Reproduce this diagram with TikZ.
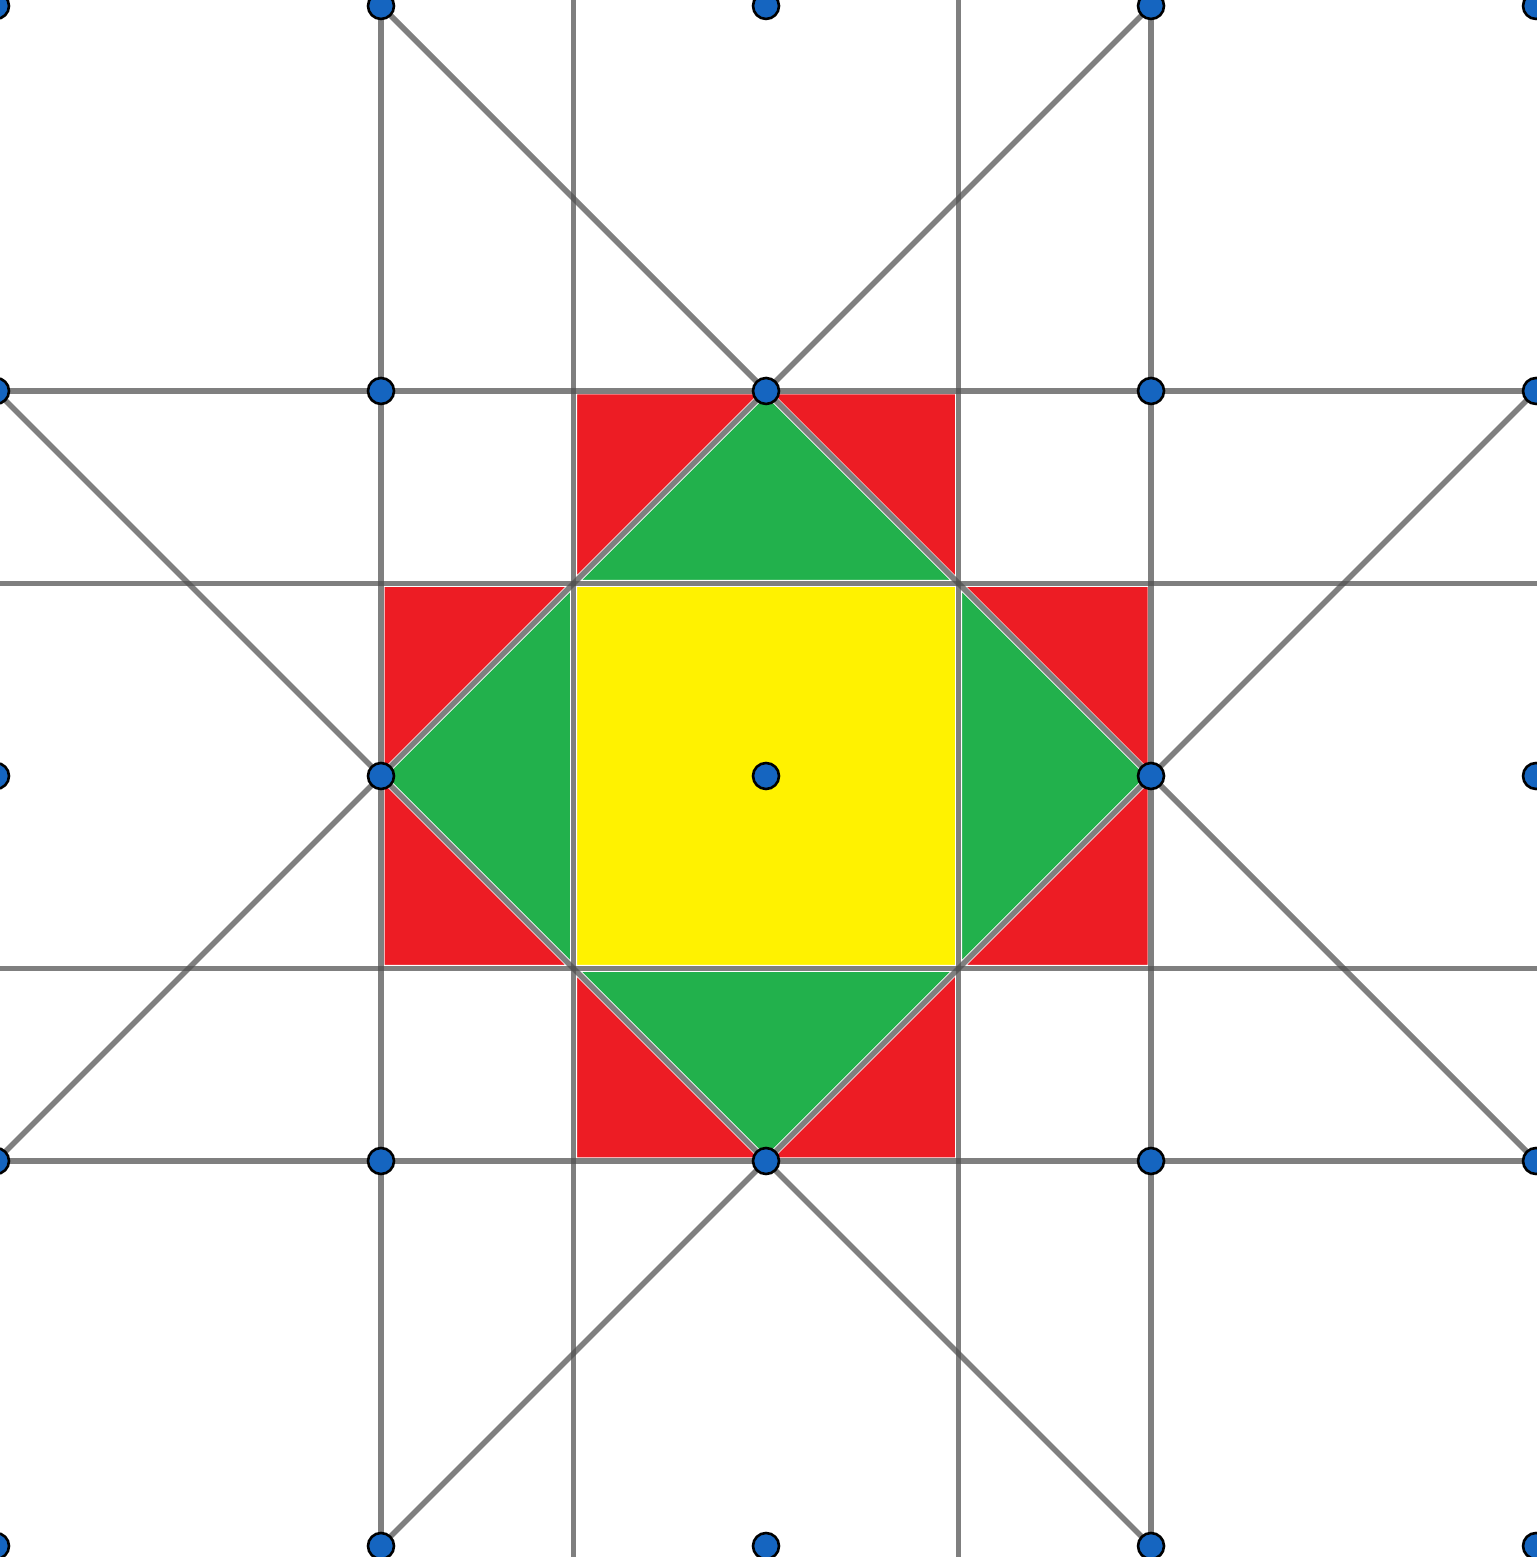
\documentclass[tikz,border=0pt]{standalone}
\definecolor{myred}{RGB}{237,28,36}
\definecolor{mygreen}{RGB}{34,177,76}
\definecolor{myyellow}{RGB}{255,242,0}
\definecolor{myblue}{RGB}{21,101,192}
\definecolor{lineink}{RGB}{80,80,80}
\tikzset{
  tile/.style={draw=white, line width=0.07cm, line join=miter},
  gridline/.style={draw=lineink, opacity=0.73, line width=0.056cm},
  dot/.style={circle, draw=black, fill=myblue, line width=0.026cm, minimum size=0.26cm, inner sep=0pt}
}
\begin{document}
\begin{tikzpicture}
\useasboundingbox (0,0) rectangle (15.37,15.57);
\begin{scope}[shift={(-0.04,15.51)}, x=3.85cm, y=-3.85cm]
  % fills
  \fill[myyellow, tile] (1.5,1.5) rectangle (2.5,2.5);
  \fill[mygreen, tile] (1.5,1.5) -- (2,1) -- (2.5,1.5) -- cycle;
  \fill[mygreen, tile] (1.5,1.5) -- (1,2) -- (1.5,2.5) -- cycle;
  \fill[mygreen, tile] (2.5,1.5) -- (3,2) -- (2.5,2.5) -- cycle;
  \fill[mygreen, tile] (1.5,2.5) -- (2,3) -- (2.5,2.5) -- cycle;
  \fill[myred, tile] (1.5,1) -- (2,1) -- (1.5,1.5) -- cycle;
  \fill[myred, tile] (2,1) -- (2.5,1) -- (2.5,1.5) -- cycle;
  \fill[myred, tile] (1,1.5) -- (1.5,1.5) -- (1,2) -- cycle;
  \fill[myred, tile] (1,2) -- (1,2.5) -- (1.5,2.5) -- cycle;
  \fill[myred, tile] (2.5,1.5) -- (3,1.5) -- (3,2) -- cycle;
  \fill[myred, tile] (3,2) -- (3,2.5) -- (2.5,2.5) -- cycle;
  \fill[myred, tile] (1.5,2.5) -- (1.5,3) -- (2,3) -- cycle;
  \fill[myred, tile] (2,3) -- (2.5,3) -- (2.5,2.5) -- cycle;
  % dot nodes
  \foreach \i in {0,...,4}{
    \foreach \j in {0,...,4}{
      \coordinate (p\i\j) at (\i,\j);
    }
  }
  \coordinate (vt15) at (1.5,-0.05);
  \coordinate (vb15) at (1.5,4.05);
  \coordinate (vt25) at (2.5,-0.05);
  \coordinate (vb25) at (2.5,4.05);
  \coordinate (hl15) at (-0.05,1.5);
  \coordinate (hr15) at (4.05,1.5);
  \coordinate (hl25) at (-0.05,2.5);
  \coordinate (hr25) at (4.05,2.5);
  % lines
  \draw[gridline] (p10) -- (p14);
  \draw[gridline] (p30) -- (p34);
  \draw[gridline] (p01) -- (p41);
  \draw[gridline] (p03) -- (p43);
  \draw[gridline] (vt15) -- (vb15);
  \draw[gridline] (vt25) -- (vb25);
  \draw[gridline] (hl15) -- (hr15);
  \draw[gridline] (hl25) -- (hr25);
  \draw[gridline] (p10) -- (p43);
  \draw[gridline] (p30) -- (p03);
  \draw[gridline] (p01) -- (p34);
  \draw[gridline] (p41) -- (p14);
  % dots
  \foreach \i in {0,...,4}{
    \foreach \j in {0,...,4}{
      \node[dot] (d\i\j) at (p\i\j) {};
    }
  }
\end{scope}
\end{tikzpicture}
\end{document}
